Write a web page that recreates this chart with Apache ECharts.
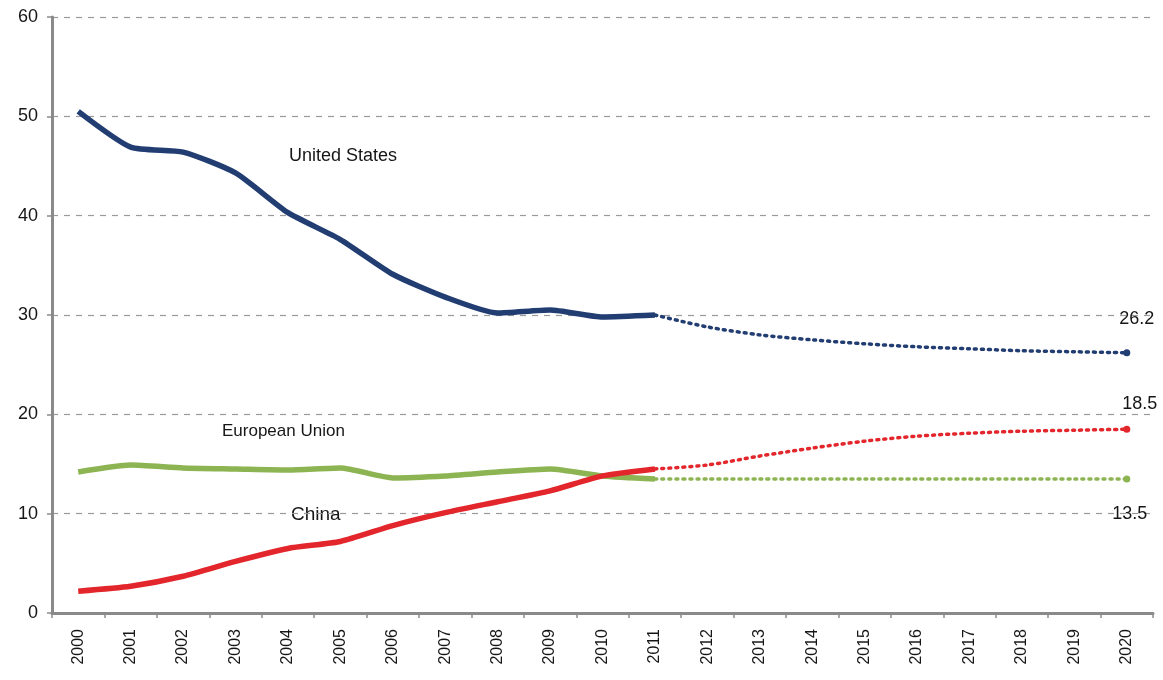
<!DOCTYPE html>
<html>
<head>
<meta charset="utf-8">
<script src="https://cdn.jsdelivr.net/npm/echarts@6/dist/echarts.min.js"></script>
<style>html,body{margin:0;padding:0;background:#fff}#c{width:1163px;height:680px}</style>
</head>
<body>
<div id="c"></div>
<script>
const years = ['2000','2001','2002','2003','2004','2005','2006','2007','2008','2009','2010','2011','2012','2013','2014','2015','2016','2017','2018','2019','2020'];
const usHist = [50.5,46.9,46.4,44.3,40.3,37.6,34.1,31.8,30.2,30.5,29.8,30.0];
const usProj = [30.0,28.8,28.0,27.5,27.1,26.8,26.6,26.4,26.3,26.2];
const euHist = [14.2,14.9,14.6,14.5,14.4,14.6,13.6,13.8,14.2,14.5,13.8,13.5];
const euProj = [13.5,13.5,13.5,13.5,13.5,13.5,13.5,13.5,13.5,13.5];
const cnHist = [2.2,2.7,3.7,5.2,6.5,7.2,8.8,10.1,11.2,12.3,13.8,14.5];
const cnProj = [14.5,14.9,15.8,16.6,17.3,17.8,18.1,18.3,18.4,18.5];
const yTicks = [0,10,20,30,40,50,60];

function hist(a){ return years.map((y,i)=> i < a.length ? a[i] : null); }
function proj(a){ const off = years.length - a.length; return years.map((y,i)=> i >= off ? a[i-off] : null); }

const colUS = '#213d72', colEU = '#8db452', colCN = '#e3262b';
const font = 'Liberation Sans, Arial, sans-serif';
const txt = '#161616';

function projSeries(name, arr, color, pos, lblOffset){
  const d = proj(arr).map((v,i)=> {
    if (i === years.length-1) return {value:v, symbol:'circle', symbolSize:7,
      label:{show:true, formatter: String(v), position:pos, offset:lblOffset, color:txt, fontSize:18, fontFamily:font}};
    return v;
  });
  return {name:name+' proj', type:'line', data:d, showSymbol:true, symbol:'none', smooth:0.3,
    lineStyle:{color, width:3.5, type:[2,5], cap:'round'}, itemStyle:{color}, z:2, silent:true};
}
function histSeries(name, arr, color){
  return {name, type:'line', data:hist(arr), symbol:'none', smooth:0.2, lineStyle:{color, width:5.5}, z:3, silent:true};
}

const chart = echarts.init(document.getElementById('c'));
chart.setOption({
  animation:false,
  grid:{left:52, right:10, top:17, bottom:67},
  xAxis:{type:'category', data:years, boundaryGap:true,
    axisLine:{lineStyle:{color:'#8a8a8a', width:3}},
    axisTick:{show:true, length:5, lineStyle:{color:'#8a8a8a', width:1.5}},
    axisLabel:{rotate:90, color:txt, fontSize:16, fontFamily:font, margin:16, interval:0}},
  yAxis:{type:'value', min:0, max:60, interval:10,
    axisLine:{show:true, lineStyle:{color:'#8a8a8a', width:3}},
    axisTick:{show:true, length:5, lineStyle:{color:'#8a8a8a', width:1.5}},
    axisLabel:{color:txt, fontSize:18, fontFamily:font, margin:14},
    splitLine:{show:true, lineStyle:{color:'#9a9a9a', type:[6,6], width:1.2}}},
  series:[
    projSeries('United States', usProj, colUS, 'top', [10,-16]),
    projSeries('China', cnProj, colCN, 'top', [13,-8]),
    projSeries('European Union', euProj, colEU, 'bottom', [3,18]),
    histSeries('United States', usHist, colUS),
    histSeries('European Union', euHist, colEU),
    histSeries('China', cnHist, colCN)
  ],
  graphic:[
    {type:'text', left:289, top:147, style:{text:'United States', fill:txt, fontSize:18, fontFamily:font}},
    {type:'text', left:222, top:423, style:{text:'European Union', fill:txt, fontSize:17, fontFamily:font}},
    {type:'text', left:291, top:505, style:{text:'China', fill:txt, fontSize:19, fontFamily:font, letterSpacing:1.5}}
  ]
});
</script>
</body>
</html>
